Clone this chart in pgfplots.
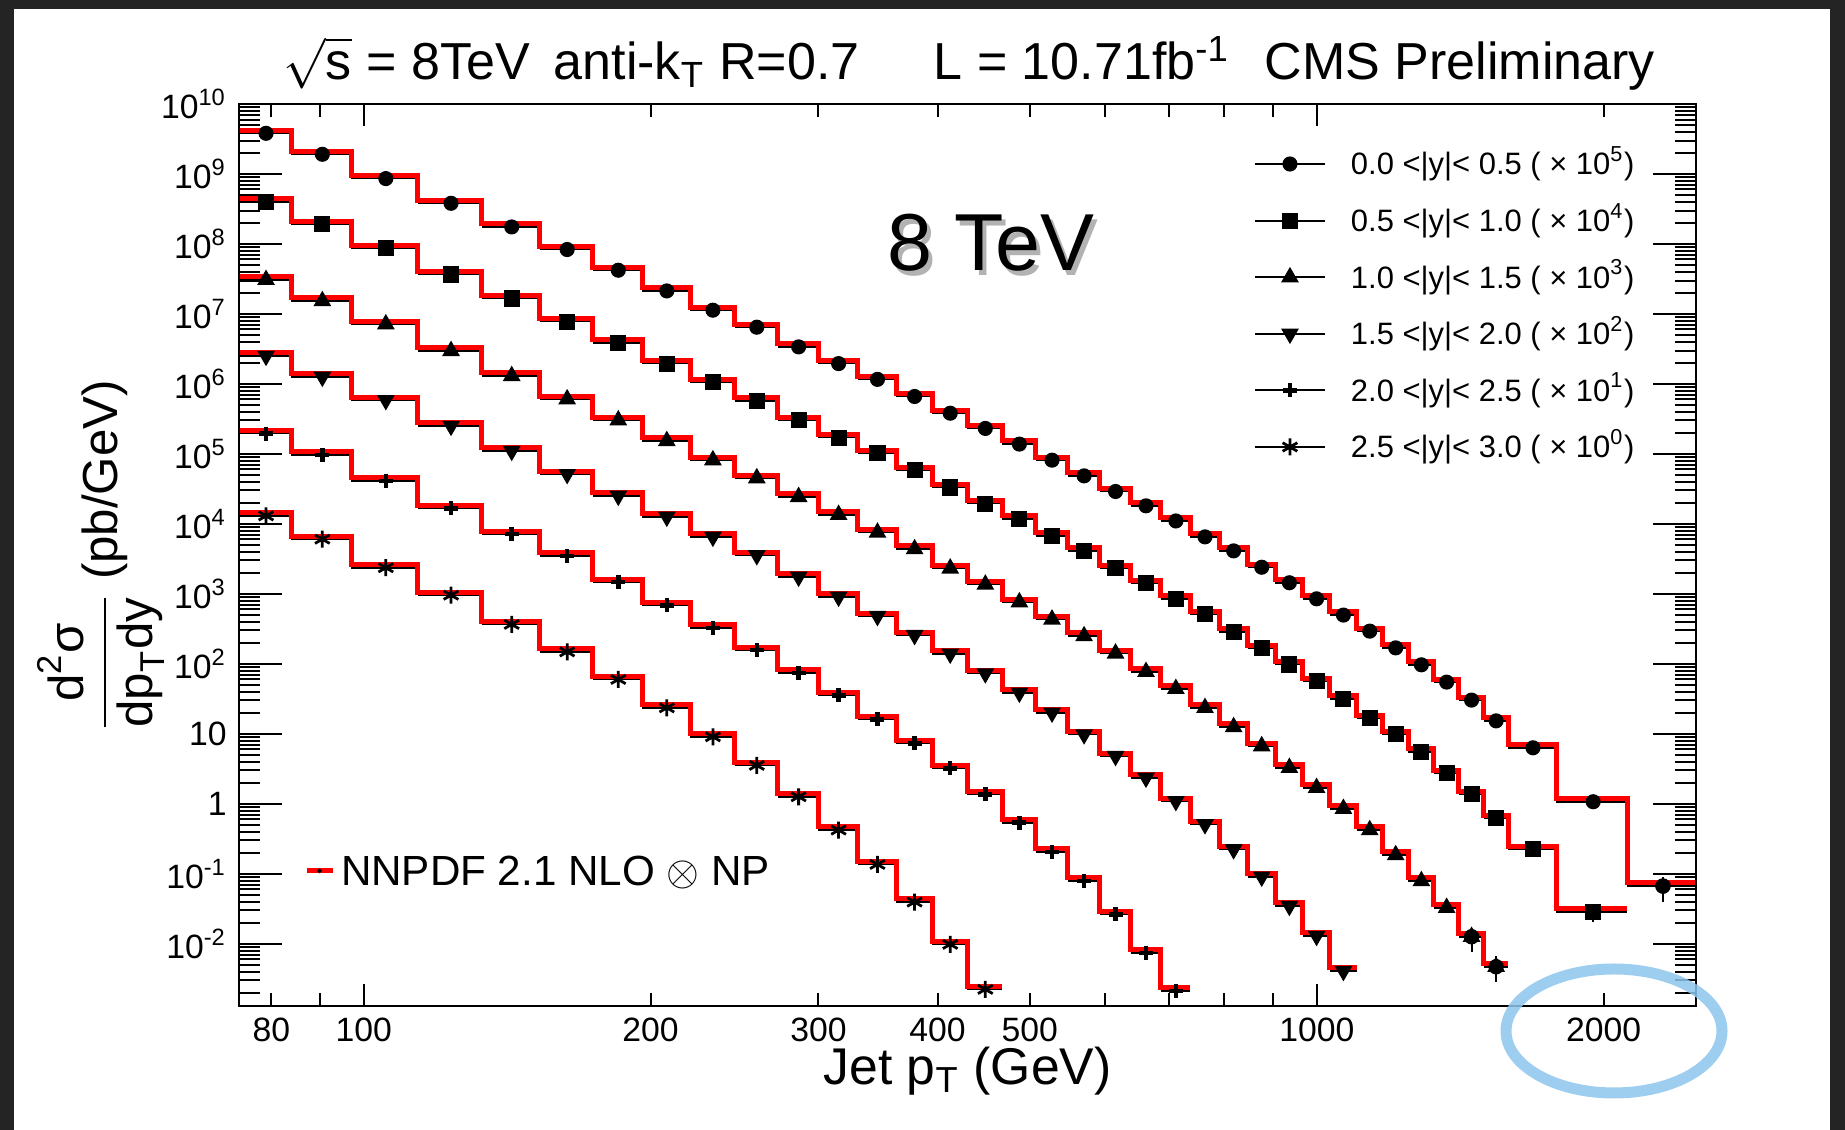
\documentclass[border=0pt]{standalone}
\usepackage{amsmath}
\usepackage{fontspec}
\setmainfont{Liberation Sans}
\usepackage{pgfplots}
\pgfplotsset{compat=1.18}
\usepackage{pgfplotstable}

\definecolor{slidebg}{RGB}{36,36,36}
\definecolor{nlored}{RGB}{255,0,0}
\definecolor{circblue}{RGB}{140,198,238}

% bin edges (GeV) and measured cross sections, already scaled per rapidity bin
\pgfplotstableread{
lo hi y
74 84 3.81e9
84 97 1.91e9
97 114 8.59e8
114 133 3.81e8
133 153 1.75e8
153 174 8.32e7
174 196 4.21e7
196 220 2.13e7
220 245 1.13e7
245 272 6.46e6
272 300 3.38e6
300 330 1.95e6
330 362 1.16e6
362 395 6.61e5
395 430 3.81e5
430 468 2.31e5
468 507 1.38e5
507 548 8.13e4
548 592 4.85e4
592 638 2.90e4
638 686 1.81e4
686 737 1.10e4
737 790 6.52e3
790 846 4.11e3
846 905 2.40e3
905 967 1.44e3
967 1032 849
1032 1101 497
1101 1172 293
1172 1248 169
1248 1327 96.8
1327 1410 54.8
1410 1497 30.3
1497 1588 15.3
1588 1784 6.31
1784 2116 1.07
2116 2500 0.0667
}\ybinA

\pgfplotstableread{
lo hi y
74 84 3.98e8
84 97 1.91e8
97 114 8.69e7
114 133 3.66e7
133 153 1.66e7
153 174 7.78e6
174 196 3.85e6
196 220 1.95e6
220 245 1.06e6
245 272 5.71e5
272 300 3.03e5
300 330 1.71e5
330 362 1.02e5
362 395 5.85e4
395 430 3.31e4
430 468 1.95e4
468 507 1.17e4
507 548 6.75e3
548 592 4.11e3
592 638 2.31e3
638 686 1.41e3
686 737 849
737 790 508
790 846 286
846 905 166
905 967 97.9
967 1032 56.6
1032 1101 31.6
1101 1172 16.6
1172 1248 9.79
1248 1327 5.48
1327 1410 2.72
1410 1497 1.36
1497 1588 0.618
1588 1784 0.223
1784 2116 0.0284
}\ybinB

\pgfplotstableread{
lo hi y
74 84 3.07e7
84 97 1.53e7
97 114 7.13e6
114 133 2.96e6
133 153 1.30e6
153 174 6.04e5
174 196 3.03e5
196 220 1.53e5
220 245 8.13e4
245 272 4.50e4
272 300 2.43e4
300 330 1.35e4
330 362 7.53e3
362 395 4.36e3
395 430 2.31e3
430 468 1.36e3
468 507 760
507 548 431
548 592 249
592 638 141
638 686 76.9
686 737 44.0
737 790 23.5
790 846 12.5
846 905 6.67
905 967 3.27
967 1032 1.69
1032 1101 0.849
1101 1172 0.421
1172 1248 0.185
1248 1327 0.0787
1327 1410 0.0327
1410 1497 0.0126
1497 1588 0.00469
}\ybinC

\pgfplotstableread{
lo hi y
74 84 2.51e6
84 97 1.26e6
97 114 5.85e5
114 133 2.51e5
133 153 1.10e5
153 174 5.13e4
174 196 2.51e4
196 220 1.26e4
220 245 6.52e3
245 272 3.55e3
272 300 1.75e3
300 330 906
330 362 480
362 395 257
395 430 139
430 468 72.9
468 507 38.5
507 548 20.0
548 592 9.79
592 638 4.80
638 686 2.35
686 737 1.09
737 790 0.508
790 846 0.223
846 905 0.0906
905 967 0.0346
967 1032 0.0129
1032 1101 0.00407
}\ybinD

\pgfplotstableread{
lo hi y
74 84 1.95e5
84 97 9.68e4
97 114 4.11e4
114 133 1.67e4
133 153 7.13e3
153 174 3.47e3
174 196 1.47e3
196 220 682
220 245 327
245 272 157
272 300 74.3
300 330 35.4
330 362 16.1
362 395 7.29
395 430 3.21
430 468 1.36
468 507 0.536
507 548 0.204
548 592 0.0787
592 638 0.0263
638 686 0.00743
686 737 0.00211
}\ybinE

\pgfplotstableread{
lo hi y
74 84 1.30e4
84 97 6.04e3
97 114 2.36e3
114 133 957
133 153 366
153 174 148
174 196 59.8
196 220 23.5
220 245 9.06
245 272 3.54
272 300 1.26
300 330 0.421
330 362 0.136
362 395 0.0394
395 430 0.00980
430 468 0.00223
}\ybinF

\pgfplotsset{
  databin/.style={black, line width=0.16mm, no marks, forget plot},
  theory/.style={nlored, line width=0.5mm, no marks, forget plot, yshift=0.31mm},
  datapt/.style={black, only marks, mark options={solid, fill=black, line width=0.15mm}},
}

% one rapidity bin: data bins, NLO step line, markers
\newcommand{\spectrum}[3]{%
  \addplot[databin, jump mark left] table[x=lo, y=y]{#1};
  \addplot[databin, jump mark right] table[x=hi, y=y]{#1};
  \addplot[theory, const plot mark left] table[x=lo, y=y]{#1};
  \addplot[theory, const plot mark right] table[x=hi, y=y]{#1};
  \addplot[datapt, #2] table[x expr={(\thisrow{lo}+\thisrow{hi})/2}, y=y]{#1};
  \addlegendentry{#3}
}

\begin{document}
\begin{tikzpicture}
\fill[slidebg] (-23.9mm,-12.4mm) rectangle (160.6mm,100.6mm);
\fill[white] (-22.5mm,-12.4mm) rectangle (159.1mm,99.7mm);

\begin{axis}[
  scale only axis, width=145.7mm, height=90.2mm,
  at={(0,0)}, anchor=south west,
  xmode=log, ymode=log,
  xmin=74, xmax=2500, ymin=1.29e-3, ymax=1e10,
  axis line style={line width=0.2mm},
  every tick/.style={black, line width=0.2mm},
  tick label style={font=\fontsize{9.6}{10}\selectfont},
  major tick length=4.3mm, minor tick length=2.1mm,
  xtick=\empty, xminorticks=false,
  ytickten={-2,...,10},
  yticklabels={10\textsuperscript{-2},10\textsuperscript{-1},1,10,10\textsuperscript{2},10\textsuperscript{3},10\textsuperscript{4},10\textsuperscript{5},10\textsuperscript{6},10\textsuperscript{7},10\textsuperscript{8},10\textsuperscript{9},10\textsuperscript{10}},
  minor ytick={2e-3,3e-3,4e-3,5e-3,6e-3,7e-3,8e-3,9e-3,
    2e-2,3e-2,4e-2,5e-2,6e-2,7e-2,8e-2,9e-2,
    0.2,0.3,0.4,0.5,0.6,0.7,0.8,0.9,
    2,3,4,5,6,7,8,9,
    20,30,40,50,60,70,80,90,
    200,300,400,500,600,700,800,900,
    2e3,3e3,4e3,5e3,6e3,7e3,8e3,9e3,
    2e4,3e4,4e4,5e4,6e4,7e4,8e4,9e4,
    2e5,3e5,4e5,5e5,6e5,7e5,8e5,9e5,
    2e6,3e6,4e6,5e6,6e6,7e6,8e6,9e6,
    2e7,3e7,4e7,5e7,6e7,7e7,8e7,9e7,
    2e8,3e8,4e8,5e8,6e8,7e8,8e8,9e8,
    2e9,3e9,4e9,5e9,6e9,7e9,8e9,9e9},
  legend style={draw=none, fill=none, inner sep=0pt, outer sep=0pt,
    at={(rel axis cs:0.6966,0.7766)}, anchor=west,
    font=\fontsize{8.8}{10}\selectfont,
    row sep=3.46mm, column sep=2.5mm,
    nodes={inner sep=0pt, text height=2.2mm, text depth=0mm}},
  legend cell align=left,
  legend image code/.code={
    \draw[black, line width=0.2mm] (0mm,0mm) -- (7mm,0mm);
    \draw plot coordinates {(3.5mm,0mm)};
  },
]
\spectrum{\ybinA}{mark=*, mark size=0.68mm}{0.0 <|y|< 0.5 ( × 10\textsuperscript{5})}
\spectrum{\ybinB}{mark=square*, mark size=0.73mm}{0.5 <|y|< 1.0 ( × 10\textsuperscript{4})}
\spectrum{\ybinC}{mark=triangle*, mark size=0.88mm}{1.0 <|y|< 1.5 ( × 10\textsuperscript{3})}
\spectrum{\ybinD}{mark=triangle*, mark size=0.88mm, every mark/.append style={rotate=180}}{1.5 <|y|< 2.0 ( × 10\textsuperscript{2})}
\spectrum{\ybinE}{mark=+, mark size=0.7mm, every mark/.append style={line width=0.45mm}}{2.0 <|y|< 2.5 ( × 10\textsuperscript{1})}
\spectrum{\ybinF}{mark=asterisk, mark size=0.85mm, every mark/.append style={line width=0.28mm}}{2.5 <|y|< 3.0 ( × 10\textsuperscript{0})}
% statistical errors visible at the highest pT points
\addplot[black, forget plot, only marks, mark=none,
  error bars/.cd, y dir=both, y explicit, error mark=none,
  error bar style={line width=0.2mm}] coordinates {
  (2308,0.0667) += (0,0.024) -= (0,0.027)
  (1950,0.0284) += (0,0.007) -= (0,0.008)
  (1453.5,0.0126) += (0,0.0038) -= (0,0.005)
  (1542.5,0.00469) += (0,0.002) -= (0,0.00185)
};
\end{axis}

% second frame: x ticks and the theory legend
\begin{axis}[
  scale only axis, width=145.7mm, height=90.2mm,
  at={(0,0)}, anchor=south west,
  xmode=log, ymode=log,
  xmin=74, xmax=2500, ymin=1.29e-3, ymax=1e10,
  axis line style={line width=0.2mm},
  every tick/.style={black, line width=0.2mm},
  tick label style={font=\fontsize{9.6}{10}\selectfont},
  ytick=\empty, yminorticks=false,
  xtick={100,1000}, xticklabels={100,1000},
  extra x ticks={80,200,300,400,500,2000},
  extra x tick labels={80,200,300,400,500,2000},
  extra x tick style={major tick length=1.3mm},
  minor xtick={90,600,700,800,900},
  major tick length=2.2mm, minor tick length=1.3mm,
  legend style={draw=none, fill=none, inner sep=0pt, outer sep=0pt,
    at={(rel axis cs:0.0446,0.1497)}, anchor=west,
    font=\fontsize{12}{14}\selectfont, column sep=0.6mm,
    nodes={inner sep=0pt, text height=3.0mm, text depth=0mm}},
  legend cell align=left,
]
\addlegendimage{legend image code/.code={
  \draw[nlored, line width=0.5mm] (0mm,0mm) -- (2.6mm,0mm);
  \fill[black] (1.3mm,0mm) circle (0.15mm);}}
\addlegendentry{NNPDF 2.1 NLO $\otimes$ NP}
\end{axis}

% titles and axis labels
\begin{scope}[font=\fontsize{14.8}{16}\selectfont]
\node[anchor=base west, inner sep=0pt] at (4.4mm,92.6mm) {$\sqrt{\text{s}}$ = 8TeV};
\node[anchor=base west, inner sep=0pt] at (31.4mm,92.6mm) {anti-k\textsubscript{T} R=0.7};
\node[anchor=base west, inner sep=0pt] at (69.4mm,92.6mm) {L = 10.71fb\textsuperscript{-1}};
\node[anchor=base west, inner sep=0pt] at (102.5mm,92.6mm) {CMS Preliminary};
\node[anchor=base, inner sep=0pt, font=\fontsize{14.7}{16}\selectfont] at (72.85mm,-7.9mm) {Jet p\textsubscript{T} (GeV)};
\node[rotate=90, inner sep=0pt, font=\fontsize{14}{16}\selectfont] at (-13.8mm,45.0mm)
  {$\dfrac{\text{d}^{\text{2}}\text{σ}}{\text{dp}_{\text{T}}\text{dy}}$ (pb/GeV)};
\end{scope}

% big label with soft shadow
\begin{scope}[font=\fontsize{23}{26}\selectfont]
\node[anchor=base, inner sep=0pt, text=black!30] at (75.6mm,73.0mm) {8 TeV};
\node[anchor=base, inner sep=0pt, text=black] at (75.2mm,73.5mm) {8 TeV};
\end{scope}

% hand-drawn highlight around the 2000 label
\draw[circblue, line width=1.1mm, opacity=0.85] (137.5mm,-2.5mm) ellipse (10.8mm and 6.2mm);

\pgfresetboundingbox
\path[use as bounding box] (-23.9mm,-12.4mm) rectangle (160.6mm,100.6mm);
\end{tikzpicture}
\end{document}
